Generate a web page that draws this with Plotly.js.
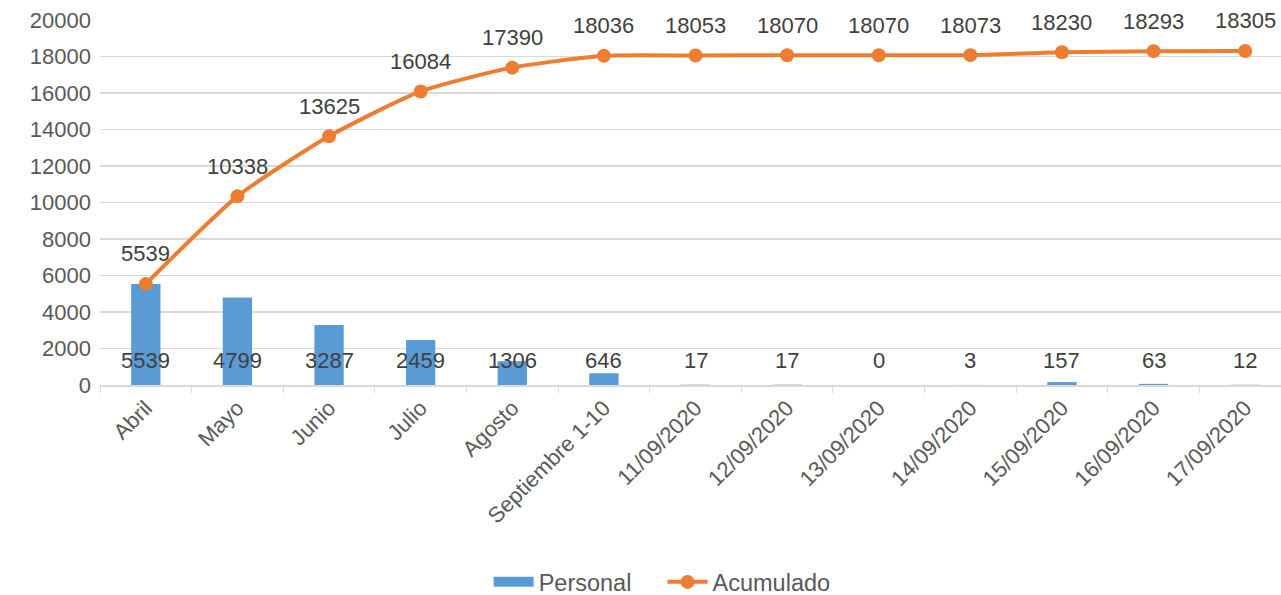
<!DOCTYPE html>
<html><head><meta charset="utf-8">
<script src="https://cdn.plot.ly/plotly-3.0.1.min.js"></script>
<style>html,body{margin:0;padding:0;overflow:hidden;background:#fff}</style>
</head><body><div id="chart" style="width:1291px;height:595px"></div>
<script>
const categories = ["Abril","Mayo","Junio","Julio","Agosto","Septiembre 1-10","11/09/2020","12/09/2020","13/09/2020","14/09/2020","15/09/2020","16/09/2020","17/09/2020"];
const personal = [5539,4799,3287,2459,1306,646,17,17,0,3,157,63,12];
const acumulado = [5539,10338,13625,16084,17390,18036,18053,18070,18070,18073,18230,18293,18305];
const yTicks = [0,2000,4000,6000,8000,10000,12000,14000,16000,18000,20000];

const font = {family:"Liberation Sans, Arial, sans-serif", color:"#404040"};
const annotations = [];
categories.forEach((c,i)=>{
  annotations.push({x:c, y:0, xref:'x', yref:'y', text:String(personal[i]), showarrow:false, yshift:25, font:{...font,size:22}});
  annotations.push({x:c, y:acumulado[i], xref:'x', yref:'y', text:String(acumulado[i]), showarrow:false, yshift:30, font:{...font,size:22}});
});

const data = [
  {type:'bar', x:categories, y:personal, name:'Personal', marker:{color:'#5B9BD5'}, width:0.32, showlegend:false},
  {type:'scatter', mode:'lines', x:[null], y:[null], name:'Personal\u00a0\u00a0\u00a0\u00a0', line:{color:'#5B9BD5', width:15}, hoverinfo:'skip'},
  {type:'scatter', mode:'lines+markers', x:categories, y:acumulado, name:'Acumulado',
   line:{color:'#ED7D31', width:4, shape:'spline', smoothing:0.6}, marker:{color:'#ED7D31', size:14}}
];
const layout = {
  width:1291, height:595,
  margin:{l:100, r:0, t:20, b:210, autoexpand:false},
  paper_bgcolor:'#fff', plot_bgcolor:'#fff',
  font:font,
  showlegend:true,
  legend:{orientation:'h', x:0.472, xanchor:'center', y:-0.54, yanchor:'middle', font:{...font,size:23.5, color:'#595959'}, tracegroupgap:0, itemwidth:40},
  xaxis:{type:'category', tickangle:-45, tickfont:{...font,size:22,color:'#595959'}, showgrid:false, automargin:false,
    showline:true, linecolor:'#D9D9D9', linewidth:1.5, ticks:'outside', ticklen:6, tickcolor:'#D9D9D9', tickson:'boundaries', range:[-0.5,12.5]},
  yaxis:{range:[0,20000], tickvals:yTicks, ticktext:yTicks.map(String), tickfont:{...font,size:22,color:'#595959'}, automargin:false,
    gridcolor:'#D9D9D9', gridwidth:1.5, zeroline:false, showline:false, ticklabelstandoff:8},
  annotations:annotations
};
Plotly.newPlot('chart', data, layout, {displayModeBar:false, staticPlot:true});
</script></body></html>
